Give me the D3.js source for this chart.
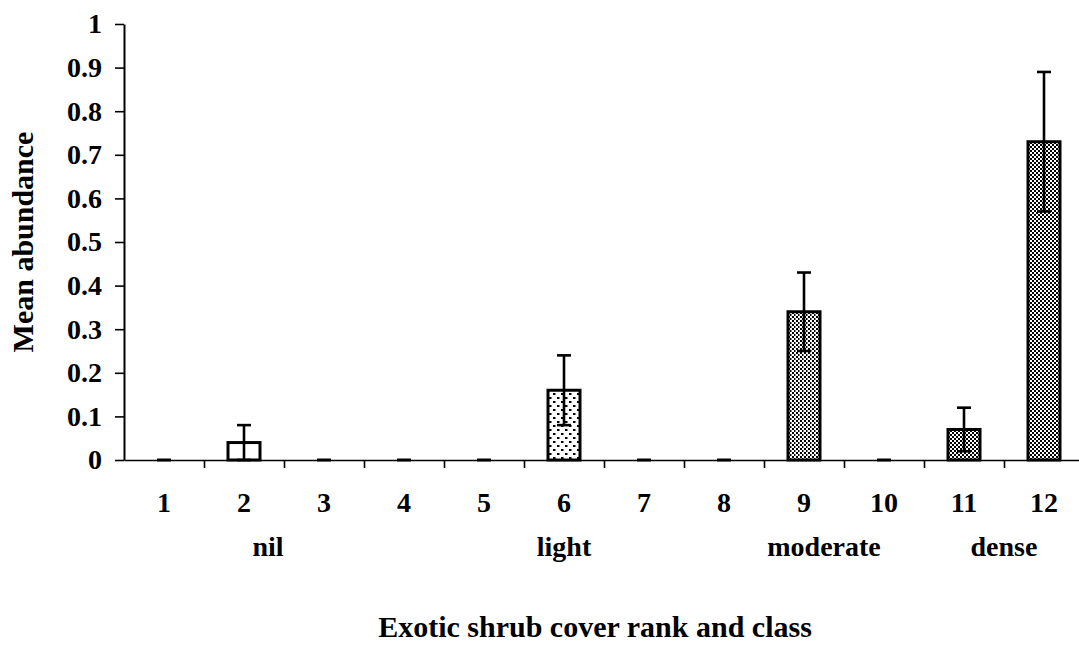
<!DOCTYPE html>
<html>
<head>
<meta charset="utf-8">
<script src="https://cdn.jsdelivr.net/npm/d3@7"></script>
<style>
  body { margin: 0; background: #fff; }
</style>
</head>
<body>
<svg id="chart"></svg>
<script>
const width = 1079;
const height = 646;

// data
const ranks = [1, 2, 3, 4, 5, 6, 7, 8, 9, 10, 11, 12];
const means = [0, 0.04, 0, 0, 0, 0.16, 0, 0, 0.34, 0, 0.07, 0.73];
const errors = [0, 0.04, 0, 0, 0, 0.08, 0, 0, 0.09, 0, 0.05, 0.16];
const fills = ["none", "white", "none", "none", "none", "light", "none", "none", "moderate", "none", "dense", "dense"];
const classLabels = ["nil", "light", "moderate", "dense"];
const classRanks = [2.3, 6, 9.25, 11.5];
const yTicks = [0, 0.1, 0.2, 0.3, 0.4, 0.5, 0.6, 0.7, 0.8, 0.9, 1];

const svg = d3.select("#chart")
  .attr("width", width)
  .attr("height", height);

function serif(sel, size) {
  sel.attr("font-family", "Liberation Serif")
    .attr("font-weight", "bold")
    .attr("font-size", size)
    .attr("fill", "#000");
}

// fill patterns
const defs = svg.append("defs");

const light = defs.append("pattern").attr("id", "light")
  .attr("patternUnits", "userSpaceOnUse").attr("width", 8).attr("height", 8);
light.append("rect").attr("width", 8).attr("height", 8).attr("fill", "white");
light.append("rect").attr("x", 1).attr("y", 1).attr("width", 2.5).attr("height", 2).attr("fill", "black");
light.append("rect").attr("x", 5).attr("y", 5).attr("width", 2.5).attr("height", 2).attr("fill", "black");

const moderate = defs.append("pattern").attr("id", "moderate")
  .attr("patternUnits", "userSpaceOnUse").attr("width", 4).attr("height", 4);
moderate.append("rect").attr("width", 4).attr("height", 4).attr("fill", "white");
moderate.append("rect").attr("x", 0).attr("y", 0).attr("width", 2).attr("height", 2).attr("fill", "black");
moderate.append("rect").attr("x", 2).attr("y", 2).attr("width", 1.5).attr("height", 2).attr("fill", "black");

const dense = defs.append("pattern").attr("id", "dense")
  .attr("patternUnits", "userSpaceOnUse").attr("width", 4).attr("height", 4);
dense.append("rect").attr("width", 4).attr("height", 4).attr("fill", "white");
dense.append("rect").attr("x", 0).attr("y", 0).attr("width", 2).attr("height", 2).attr("fill", "black");
dense.append("rect").attr("x", 2).attr("y", 2).attr("width", 2).attr("height", 2).attr("fill", "black");

const x = d3.scaleLinear().domain([0.5, 12.5]).range([124, 1084]);
const y = d3.scaleLinear().domain([0, 1]).range([460, 24]);
const barW = 32;

// y axis
const yAxis = svg.append("g")
  .attr("transform", `translate(${x(0.5)},0)`)
  .call(d3.axisLeft(y).tickValues(yTicks).tickFormat(d3.format("~g"))
    .tickSize(9).tickSizeOuter(0).tickPadding(13));
yAxis.call(serif, 28);
yAxis.selectAll("text").call(serif, 28);
yAxis.selectAll("line, path").attr("stroke", "#000").attr("stroke-width", 1.6);
yAxis.select(".domain").attr("stroke-width", 2);

// x axis: ticks sit between the ranks
const xAxis = svg.append("g")
  .attr("transform", `translate(0,${y(0)})`)
  .call(d3.axisBottom(x).tickValues(d3.range(1.5, 12, 1)).tickFormat("")
    .tickSize(8).tickSizeOuter(0));
xAxis.selectAll("line, path").attr("stroke", "#000").attr("stroke-width", 1.6);

// rank labels
svg.append("g").selectAll("text")
  .data(ranks)
  .join("text")
  .attr("x", d => x(d))
  .attr("y", 512)
  .attr("text-anchor", "middle")
  .call(serif, 28)
  .text(d => d);

// class labels
svg.append("g").selectAll("text")
  .data(classLabels)
  .join("text")
  .attr("x", (d, i) => x(classRanks[i]))
  .attr("y", 556)
  .attr("text-anchor", "middle")
  .call(serif, 28)
  .text(d => d);

// bars
const bars = ranks.map((r, i) => ({ r, m: means[i], e: errors[i], f: fills[i] }));

svg.append("g").selectAll("rect")
  .data(bars.filter(d => d.m > 0))
  .join("rect")
  .attr("x", d => x(d.r) - barW / 2)
  .attr("y", d => y(d.m))
  .attr("width", barW)
  .attr("height", d => y(0) - y(d.m))
  .attr("fill", d => d.f === "white" ? "white" : `url(#${d.f})`)
  .attr("stroke", "#000")
  .attr("stroke-width", 3);

// zero-height bars show as a short dash
svg.append("g").selectAll("line")
  .data(bars.filter(d => d.m === 0))
  .join("line")
  .attr("x1", d => x(d.r) - 7)
  .attr("x2", d => x(d.r) + 7)
  .attr("y1", y(0))
  .attr("y2", y(0))
  .attr("stroke", "#000")
  .attr("stroke-width", 3);

// error bars
const err = svg.append("g").selectAll("g")
  .data(bars.filter(d => d.e > 0))
  .join("g")
  .attr("stroke", "#000")
  .attr("stroke-width", 2.6);
err.append("line")
  .attr("x1", d => x(d.r)).attr("x2", d => x(d.r))
  .attr("y1", d => y(d.m - d.e)).attr("y2", d => y(d.m + d.e));
err.append("line")
  .attr("x1", d => x(d.r) - 7).attr("x2", d => x(d.r) + 7)
  .attr("y1", d => y(d.m + d.e)).attr("y2", d => y(d.m + d.e));
err.append("line")
  .attr("x1", d => x(d.r) - 7).attr("x2", d => x(d.r) + 7)
  .attr("y1", d => y(d.m - d.e)).attr("y2", d => y(d.m - d.e));

// axis titles
svg.append("text")
  .attr("transform", `translate(33,242) rotate(-90)`)
  .attr("text-anchor", "middle")
  .call(serif, 30)
  .text("Mean abundance");

svg.append("text")
  .attr("x", 595)
  .attr("y", 637)
  .attr("text-anchor", "middle")
  .call(serif, 30)
  .text("Exotic shrub cover rank and class");
</script>
</body>
</html>
